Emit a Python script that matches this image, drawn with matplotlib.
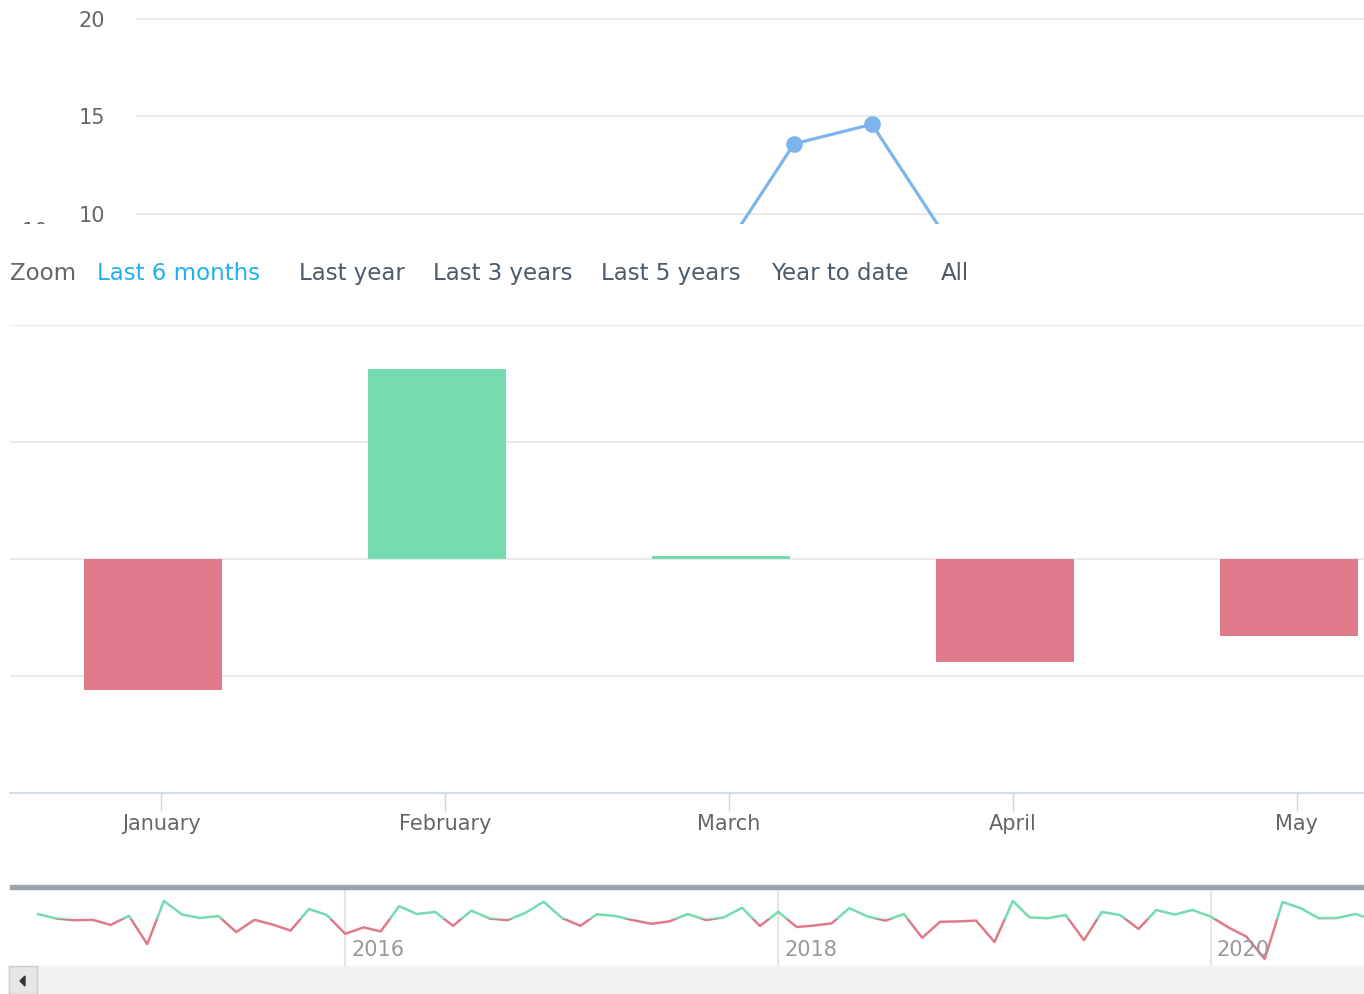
import matplotlib
matplotlib.use("Agg")
import matplotlib.pyplot as plt
import matplotlib.dates as mdates
from matplotlib.patches import Rectangle, Polygon
from matplotlib.transforms import Bbox, TransformedBbox
import pandas as pd

# data
line_values = [7.5, 13.6, 14.6, 8.5]
top_ticks = [10, 15, 20]

zoom_buttons = ["Last 6 months", "Last year", "Last 3 years", "Last 5 years", "Year to date", "All"]

months = ["January", "February", "March", "April", "May"]
col_values = [-5.6, 8.1, 0.13, -4.4, -3.3]

nav_start = "2014-08-01"
nav_values = [2.4, 0.2, -0.6, -0.4, -3.0, 1.6, -12.6, 9.0, 2.2, 0.5, 1.5, -6.5,
              -0.4, -2.8, -5.8, 5.0, 2.0, -7.4, -4.2, -6.2, 6.4, 2.5, 3.5, -3.4,
              4.2, 0.2, -0.6, 3.2, 8.6, 0.5, -3.4, 2.4, 1.5, -0.6, -2.4, -1.2,
              2.5, -0.5, 0.8, 5.6, -3.5, 3.6, -4.0, -3.3, -2.2, 5.4, 1.2, -0.8,
              2.5, -9.4, -1.4, -1.2, -0.8, -11.5, 9.0, 0.8, 0.4, 2.0, -10.6, 3.5,
              2.0, -5.0, 4.5, 2.2, 4.5, 1.2, -4.4, -8.8, -20.0, 8.5, 5.4, 0.4,
              0.5, 2.5, -0.3]
nav_years = ["2016", "2018", "2020"]

BLUE = "#7cb5ec"
GREEN = "#75dbb1"
RED = "#e07a8a"
GRID = "#e6e6e6"
LABEL = "#666666"

W, H = 1364, 994


def box(x0, y0, x1, y1):
    return [x0 / W, 1 - y1 / H, (x1 - x0) / W, (y1 - y0) / H]


def fx(x):
    return x / W


def fy(y):
    return 1 - y / H


fig = plt.figure(figsize=(13.64, 9.94), dpi=100)

# ---- top line chart (cut off at the bottom)
ax_top = fig.add_axes(box(136, 0, 1364, 224))
ax_top.plot(range(len(line_values)), line_values, color=BLUE, lw=2.3,
            marker="o", ms=11, mec=BLUE)
ax_top.set_xlim(-7.44, 8.31)
ax_top.set_ylim(9.49, 20.97)
ax_top.set_yticks(top_ticks)
ax_top.set_xticks([])
ax_top.yaxis.grid(True, color=GRID, lw=1.2)
ax_top.set_axisbelow(True)
ax_top.tick_params(axis="y", length=0, pad=22, labelsize=15, labelcolor=LABEL)
for s in ax_top.spines.values():
    s.set_visible(False)

# leftover label of another axis, clipped
t = fig.text(fx(22), fy(222), "10", va="top", ha="left", fontsize=15, color=LABEL)
t.set_clip_box(TransformedBbox(Bbox([[0, fy(224)], [1, 1]]), fig.transFigure))
t.set_clip_on(True)

# ---- range selector
fig.text(fx(10), fy(273), "Zoom", va="center", ha="left", fontsize=16.5, color=LABEL)
btn_x = [97, 299, 433, 601, 771, 941]
for i, lab in enumerate(zoom_buttons):
    fig.text(fx(btn_x[i]), fy(273), lab, va="center", ha="left", fontsize=16.5,
             color="#21b1ef" if i == 0 else "#4d5b68")

# ---- column chart
ax = fig.add_axes(box(10, 325, 1364, 793))
pos = [i - 0.028 for i in range(len(months))]
ax.bar(pos, col_values, width=0.486,
       color=[GREEN if v >= 0 else RED for v in col_values], zorder=3)
ax.set_xlim(-0.532, 4.236)
ax.set_ylim(-10, 10)
ax.set_yticks([-5, 0, 5, 10])
ax.set_yticklabels([])
ax.yaxis.grid(True, color=GRID, lw=1.2)
ax.set_axisbelow(True)
ax.tick_params(axis="y", length=0)
ax.set_xticks(range(len(months)))
ax.set_xticklabels(months)
ax.tick_params(axis="x", length=13, width=1, color="#ccd6eb", pad=2,
               labelsize=15, labelcolor=LABEL)
for k in ["top", "left", "right"]:
    ax.spines[k].set_visible(False)
ax.spines["bottom"].set_color("#ccd6eb")
ax.spines["bottom"].set_linewidth(1.2)

# ---- navigator
dates = pd.date_range(nav_start, periods=len(nav_values), freq="MS")
xn = mdates.date2num(dates)
axn = fig.add_axes(box(10, 889, 1364, 966))
x0 = xn[0] - 1.567 * 30.44
x1 = xn[73] + 0.48 * 30.44
axn.set_xlim(x0, x1)
axn.set_ylim(-23.5, 15)
g, = axn.plot(xn, nav_values, color=GREEN, lw=1.8)
r, = axn.plot(xn, nav_values, color=RED, lw=1.8)
g.set_clip_path(Rectangle((x0, 0), x1 - x0, 100, transform=axn.transData))
r.set_clip_path(Rectangle((x0, -100), x1 - x0, 100, transform=axn.transData))
yr = mdates.date2num([pd.Timestamp(y + "-01-01") for y in nav_years])
axn.set_xticks(yr)
axn.set_xticklabels([])
axn.set_yticks([])
axn.tick_params(axis="x", length=0)
axn.xaxis.grid(True, color=GRID, lw=1.5)
axn.set_axisbelow(True)
for s in axn.spines.values():
    s.set_visible(False)
for xv, lab in zip(yr, nav_years):
    axn.annotate(lab, (xv, 0.21), xycoords=("data", "axes fraction"),
                 xytext=(6, 0), textcoords="offset pixels",
                 va="center", ha="left", fontsize=15, color="#999999")

fig.patches.append(Rectangle((fx(10), fy(889)), (1364 - 10) / W, 4 / H,
                             transform=fig.transFigure, color="#9aa4ae"))

# scrollbar
fig.patches.append(Rectangle((fx(8), 0), (1364 - 8) / W, 28 / H,
                             transform=fig.transFigure, color="#f2f2f2"))
fig.patches.append(Rectangle((fx(8.5), 0), 28.5 / W, 28 / H, transform=fig.transFigure,
                             facecolor="#e6e6e6", edgecolor="#cccccc", lw=1))
fig.patches.append(Polygon([(fx(20), fy(981)), (fx(25), fy(976)), (fx(25), fy(986))],
                           closed=True, transform=fig.transFigure, color="#333333"))

fig.savefig("out.png", dpi=100)
